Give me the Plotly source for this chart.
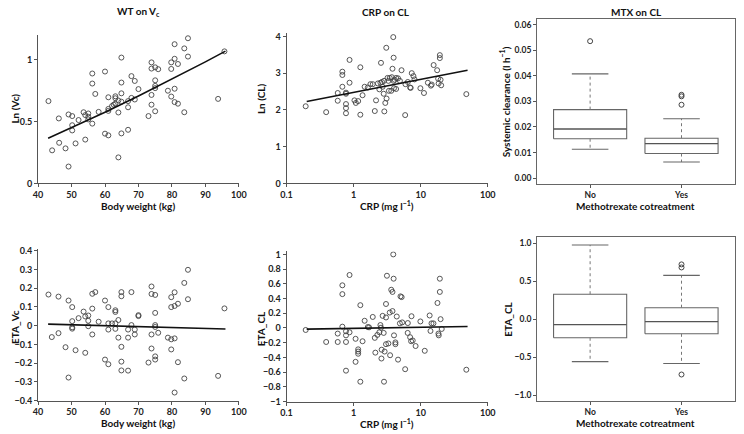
import plotly.graph_objects as go

W, H = 744, 434

# ---------------- Data ----------------
# Panel A: WT on Vc
wt_a = [43.1, 44.2, 46.2, 46.3, 48.2, 49.1, 49.1, 50.2, 50.2, 50.2, 51.2, 52.1, 53.6, 54.1, 54.1,
        55.0, 55.0, 55.0, 56.2, 56.2, 56.2, 57.1, 58.1, 60.0, 60.0, 61.0, 61.0, 61.0, 61.0, 62.1,
        62.6, 63.1, 63.1, 63.1, 64.0, 64.0, 64.0, 64.9, 64.9, 64.9, 64.9, 64.9, 66.9, 66.9, 66.9,
        67.9, 67.9, 68.9, 68.9, 70.0, 73.0, 73.9, 73.9, 73.9, 73.9, 75.0, 75.0, 75.0, 75.0, 75.0,
        75.9, 78.8, 79.8, 79.8, 79.8, 80.8, 80.8, 80.8, 80.8, 81.8, 81.8, 83.7, 83.7, 84.8, 84.8,
        93.8, 95.7]
ln_vc = [0.666, 0.268, 0.526, 0.329, 0.284, 0.558, 0.137, 0.545, 0.471, 0.429, 0.324, 0.513, 0.576, 0.553, 0.355,
         0.566, 0.539, 0.518, 0.889, 0.808, 0.484, 0.724, 0.579, 0.905, 0.403, 0.697, 0.603, 0.587, 0.389, 0.626,
         0.637, 0.705, 0.689, 0.645, 0.671, 0.574, 0.211, 1.018, 0.816, 0.729, 0.661, 0.405, 0.666, 0.616, 0.434,
         0.868, 0.692, 0.829, 0.679, 0.763, 0.545, 0.979, 0.929, 0.716, 0.637, 0.939, 0.834, 0.789, 0.771, 0.584,
         0.924, 0.750, 0.979, 0.926, 0.703, 1.126, 1.008, 0.766, 0.658, 0.966, 0.645, 1.092, 0.576, 1.174, 1.026,
         0.684, 1.068]
fit_a_x = [43, 50, 60, 70, 80, 90, 96]
fit_a_y = [0.365, 0.450, 0.576, 0.707, 0.842, 0.983, 1.070]

# Panel B: CRP on CL
crp_b = [0.193, 0.39, 0.58, 0.58, 0.68, 0.68, 0.68, 0.77, 0.77, 0.77, 0.77, 0.77, 0.87, 0.87, 1.03,
         1.08, 1.17, 1.26, 1.26, 1.36, 1.46, 1.63, 1.78, 1.93, 2.07, 2.16, 2.42, 2.51, 2.56, 2.65,
         2.71, 2.81, 2.84, 2.87, 3.07, 2.97, 3.1, 3.2, 3.36, 3.46, 3.64, 3.72, 3.8, 3.9, 3.95,
         3.95, 4.0, 4.3, 4.3, 4.6, 4.9, 5.18, 5.93, 5.87, 6.43, 6.96, 7.1, 7.36, 7.8, 8.1,
         9.9, 11.2, 12.8, 14.2, 14.6, 15.6, 17.6, 18.2, 18.5, 19.3, 19.3, 19.8, 20.2, 47.9, 3.3,
         4.1, 2.3]
ln_cl = [2.10, 1.94, 2.46, 2.25, 3.04, 2.95, 2.63, 2.47, 2.44, 2.16, 2.05, 1.91, 3.36, 2.74, 2.26,
         2.19, 2.24, 3.16, 1.87, 2.40, 2.63, 2.61, 2.70, 2.70, 1.97, 2.26, 2.56, 2.74, 3.28, 2.76,
         2.63, 2.44, 2.79, 1.96, 3.69, 2.19, 2.31, 2.87, 2.52, 2.87, 2.52, 2.89, 3.12, 3.98, 3.42,
         2.79, 2.59, 2.57, 2.87, 2.86, 2.79, 3.08, 2.70, 1.86, 2.76, 2.61, 2.60, 3.00, 2.92, 2.83,
         2.59, 2.46, 2.74, 2.66, 2.69, 3.22, 3.08, 2.85, 2.72, 3.49, 3.41, 2.82, 2.67, 2.43, 2.79,
         2.82, 2.72]
fit_b_x = [0.2, 50]
fit_b_y = [2.23, 3.08]

# Panel C: MTX on CL (box summaries)
groups = ["No", "Yes"]
cl_q1 = [0.0154, 0.0096]
cl_med = [0.0192, 0.0135]
cl_q3 = [0.0268, 0.0156]
cl_lo = [0.0113, 0.0063]
cl_hi = [0.0408, 0.0232]
cl_out = [[0.0536], [0.0326, 0.0320, 0.0287]]

# Panel D: WT on ETA_Vc
wt_d = [43.1, 44.1, 46.1, 46.1, 48.2, 49.1, 49.1, 50.2, 50.2, 50.2, 50.2, 51.2, 52.1, 53.6, 54.1,
        54.1, 55.0, 55.0, 55.0, 56.2, 57.1, 56.2, 56.2, 58.1, 60.0, 60.0, 61.0, 61.0, 61.0, 61.0,
        62.1, 63.1, 63.1, 63.1, 63.1, 64.0, 64.0, 64.9, 64.9, 64.9, 64.9, 64.9, 66.9, 66.9, 66.9,
        67.9, 67.9, 68.9, 68.9, 70.0, 70.0, 73.0, 73.9, 73.9, 73.9, 73.9, 75.0, 75.0, 75.0, 75.0,
        75.0, 75.0, 75.9, 78.8, 79.8, 79.8, 79.8, 79.8, 80.8, 80.8, 80.8, 80.8, 81.8, 81.8, 83.7,
        83.7, 84.8, 84.8, 93.8, 95.7]
eta_vc = [0.166, -0.061, 0.155, -0.040, -0.115, 0.134, -0.277, 0.099, 0.024, -0.009, -0.016, -0.131, 0.040, 0.075, 0.049,
          -0.145, 0.054, 0.026, -0.003, 0.170, 0.179, 0.091, -0.047, 0.021, 0.134, -0.181, 0.099, 0.012, -0.021, -0.206,
          0.012, 0.082, 0.073, 0.012, -0.017, 0.030, -0.064, 0.179, 0.157, -0.113, -0.192, -0.239, -0.021, -0.064, -0.240,
          0.179, 0.003, -0.021, -0.047, 0.056, 0.051, -0.197, 0.209, 0.169, -0.047, -0.122, 0.164, 0.068, 0.003, -0.007,
          -0.164, -0.181, -0.038, -0.064, 0.152, 0.099, -0.073, -0.127, 0.178, 0.105, -0.068, -0.357, 0.117, -0.195, 0.228,
          -0.282, 0.298, 0.141, -0.268, 0.092]
fit_d_x = [43, 96]
fit_d_y = [0.008, -0.018]

# Panel E: CRP on ETA_CL
crp_e = [0.193, 0.39, 0.58, 0.58, 0.68, 0.68, 0.68, 0.77, 0.77, 0.77, 0.77, 0.87, 0.87, 1.07, 1.07,
         1.17, 1.17, 1.17, 1.26, 1.26, 1.36, 1.46, 1.63, 1.7, 1.93, 2.07, 2.11, 2.26, 2.42, 2.51,
         2.56, 2.6, 2.62, 2.71, 2.81, 2.84, 2.9, 3.04, 3.04, 3.14, 3.04, 3.3, 3.46, 3.5, 3.64,
         3.8, 3.8, 3.9, 3.95, 4.0, 4.2, 4.2, 4.4, 4.6, 5.0, 5.2, 4.9, 5.3, 5.87, 6.43,
         6.4, 6.96, 7.3, 7.2, 7.6, 8.4, 9.9, 11.5, 13.6, 14.0, 14.5, 15.5, 17.8, 18.4, 18.6,
         19.3, 19.3, 19.8, 20.6, 47.9]
eta_cl = [-0.027, -0.19, -0.076, -0.19, 0.58, 0.46, 0.018, -0.045, -0.10, -0.19, -0.58, 0.72, -0.058, -0.147, -0.46,
          -0.29, -0.32, -0.35, 0.31, -0.73, -0.18, 0.098, 0.013, 0.009, 0.15, -0.134, -0.335, -0.094, -0.058, 0.04,
          0.004, -0.415, -0.295, 0.165, -0.067, -0.73, -0.32, 0.326, 0.143, 0.71, -0.22, -0.21, 0.21, -0.37, 0.52,
          0.49, 0.23, 1.0, 0.67, -0.10, -0.196, -0.22, 0.156, -0.43, 0.43, 0.42, 0.063, 0.076, -0.56, 0.067,
          -0.067, -0.125, 0.16, -0.18, -0.17, -0.245, 0.089, -0.31, 0.17, -0.04, 0.063, 0.063, 0.34, -0.076, -0.10,
          0.67, 0.49, 0.12, -0.013, -0.567]
fit_e_x = [0.2, 50]
fit_e_y = [-0.015, 0.02]

# Panel F: MTX on ETA_CL (box summaries)
eta_q1 = [-0.246, -0.194]
eta_med = [-0.072, -0.033]
eta_q3 = [0.327, 0.150]
eta_lo = [-0.56, -0.585]
eta_hi = [0.975, 0.575]
eta_out = [[], [0.72, 0.68, -0.73]]

# ---------------- Styling ----------------
AX = "#555555"
PT = "#444444"
FONT = "Lato"

fig = go.Figure()

def scatter_panel(xs, ys, fx, fy, xa, ya):
    fig.add_trace(go.Scatter(x=xs, y=ys, mode="markers", xaxis=xa, yaxis=ya,
                             marker=dict(symbol="circle-open", size=5, color=PT, line=dict(width=0.9)),
                             showlegend=False, hoverinfo="skip"))
    fig.add_trace(go.Scatter(x=fx, y=fy, mode="lines", xaxis=xa, yaxis=ya,
                             line=dict(color="#111111", width=1.6), showlegend=False, hoverinfo="skip"))

def box_panel(q1, med, q3, lo, hi, outs, xa, ya):
    bw, cw = 0.4, 0.2
    for i in range(len(q1)):
        c = i + 1
        line = dict(color="#666666", width=1.1)
        fig.add_trace(go.Scatter(x=[c - bw, c + bw, c + bw, c - bw, c - bw],
                                 y=[q1[i], q1[i], q3[i], q3[i], q1[i]], mode="lines",
                                 line=line, xaxis=xa, yaxis=ya, showlegend=False, hoverinfo="skip"))
        fig.add_trace(go.Scatter(x=[c - bw, c + bw], y=[med[i], med[i]], mode="lines",
                                 line=dict(color="#555555", width=1.3), xaxis=xa, yaxis=ya,
                                 showlegend=False, hoverinfo="skip"))
        for a, b in ((q3[i], hi[i]), (q1[i], lo[i])):
            fig.add_trace(go.Scatter(x=[c, c], y=[a, b], mode="lines",
                                     line=dict(color="#777777", width=1, dash="dot"),
                                     xaxis=xa, yaxis=ya, showlegend=False, hoverinfo="skip"))
            fig.add_trace(go.Scatter(x=[c - cw, c + cw], y=[b, b], mode="lines", line=line,
                                     xaxis=xa, yaxis=ya, showlegend=False, hoverinfo="skip"))
        if outs[i]:
            fig.add_trace(go.Scatter(x=[c] * len(outs[i]), y=outs[i], mode="markers",
                                     marker=dict(symbol="circle-open", size=5, color=PT, line=dict(width=1)),
                                     xaxis=xa, yaxis=ya, showlegend=False, hoverinfo="skip"))

scatter_panel(wt_a, ln_vc, fit_a_x, fit_a_y, "x", "y")
scatter_panel(crp_b, ln_cl, fit_b_x, fit_b_y, "x2", "y2")
box_panel(cl_q1, cl_med, cl_q3, cl_lo, cl_hi, cl_out, "x3", "y3")
scatter_panel(wt_d, eta_vc, fit_d_x, fit_d_y, "x4", "y4")
scatter_panel(crp_e, eta_cl, fit_e_x, fit_e_y, "x5", "y5")
box_panel(eta_q1, eta_med, eta_q3, eta_lo, eta_hi, eta_out, "x6", "y6")

def dx(a, b):
    return [a / W, b / W]

def dy(top, bottom):
    return [1 - bottom / H, 1 - top / H]

tickfont = dict(family=FONT, size=9, color="#222222", weight="bold")
boxtickfont = dict(family=FONT, size=8.5, color="#222222", weight="bold")

def sax(**kw):
    d = dict(showline=True, linecolor=AX, linewidth=1, ticks="outside", ticklen=3, tickcolor=AX,
             tickwidth=1, showgrid=False, zeroline=False, tickfont=tickfont, mirror=False)
    d.update(kw)
    return d

def bax(**kw):
    d = sax(mirror=True, linecolor="#666666", tickfont=boxtickfont)
    d.update(kw)
    return d

fig.update_layout(
    width=W, height=H, margin=dict(l=0, r=0, t=0, b=0),
    paper_bgcolor="white", plot_bgcolor="white", showlegend=False,
    xaxis=sax(domain=dx(32.7, 237.3), range=[40, 100], tickvals=[40, 50, 60, 70, 80, 90, 100], anchor="y"),
    yaxis=sax(domain=dy(31.7, 183.3), range=[0, 1.2], tickvals=[0, 0.5, 1], anchor="x"),
    xaxis2=sax(domain=dx(285.9, 491), type="log", range=[-1, 2], tickvals=[0.1, 1, 10, 100],
               ticktext=["0.1", "1", "10", "100"], anchor="y2"),
    yaxis2=sax(domain=dy(29.3, 183.3), range=[0, 4.1], tickvals=[0, 1, 2, 3, 4], anchor="x2"),
    xaxis3=bax(domain=dx(541.3, 742.5), range=[0.42, 2.58], tickvals=[1, 2], ticktext=groups, anchor="y3"),
    yaxis3=bax(domain=dy(15, 184), range=[-0.0024, 0.0624], tickvals=[0, 0.01, 0.02, 0.03, 0.04, 0.05, 0.06],
               tickformat=".2f", anchor="x3"),
    xaxis4=sax(domain=dx(32.7, 237.3), range=[40, 100], tickvals=[40, 50, 60, 70, 80, 90, 100], anchor="y4"),
    yaxis4=sax(domain=dy(250, 405), range=[-0.4, 0.41],
               tickvals=[-0.4, -0.3, -0.2, -0.1, 0, 0.1, 0.2, 0.3, 0.4], anchor="x4"),
    xaxis5=sax(domain=dx(285.9, 491), type="log", range=[-1, 2], tickvals=[0.1, 1, 10, 100],
               ticktext=["0.1", "1", "10", "100"], anchor="y5"),
    yaxis5=sax(domain=dy(252.7, 406), range=[-1, 1.04],
               tickvals=[-1, -0.8, -0.6, -0.4, -0.2, 0, 0.2, 0.4, 0.6, 0.8, 1], anchor="x5"),
    xaxis6=bax(domain=dx(541.3, 742.5), range=[0.42, 2.58], tickvals=[1, 2], ticktext=groups, anchor="y6"),
    yaxis6=bax(domain=dy(238, 405.5), range=[-1.08, 1.08], tickvals=[-1, -0.5, 0, 0.5, 1],
               tickformat=".1f", anchor="x6"),
)

def ann(text, x, y, size=10, angle=0):
    fig.add_annotation(text=text, x=x / W, y=1 - y / H, xref="paper", yref="paper",
                       showarrow=False, textangle=angle, xanchor="center", yanchor="middle",
                       font=dict(family=FONT, size=size, color="#111111", weight="bold"))

# Panel titles
ann("WT on V<sub>c</sub>", 135, 8)
ann("CRP on CL", 387, 8)
ann("MTX on CL", 643, 8)

# X axis titles
ann("Body weight (kg)", 135, 206)
ann("CRP (mg l<sup>−1</sup>)", 388, 206)
ann("Methotrexate cotreatment", 642, 206)
ann("Body weight (kg)", 135, 428)
ann("CRP (mg l<sup>−1</sup>)", 388, 428)
ann("Methotrexate cotreatment", 642, 428)

# Y axis titles
ann("Ln (Vc)", 9, 107, angle=-90)
ann("Ln (CL)", 260, 97, angle=-90)
ann("Systemic clearance (l h<sup>−1</sup>)", 509, 100, angle=-90)
ann("ETA_Vc", 9, 330, angle=-90)
ann("ETA_CL", 260, 332, angle=-90)
ann("ETA_CL", 512, 322, angle=-90)

fig.write_html("out.html", config={"displayModeBar": False},
               post_script="document.body.style.margin='0px';document.body.style.overflow='hidden';")
